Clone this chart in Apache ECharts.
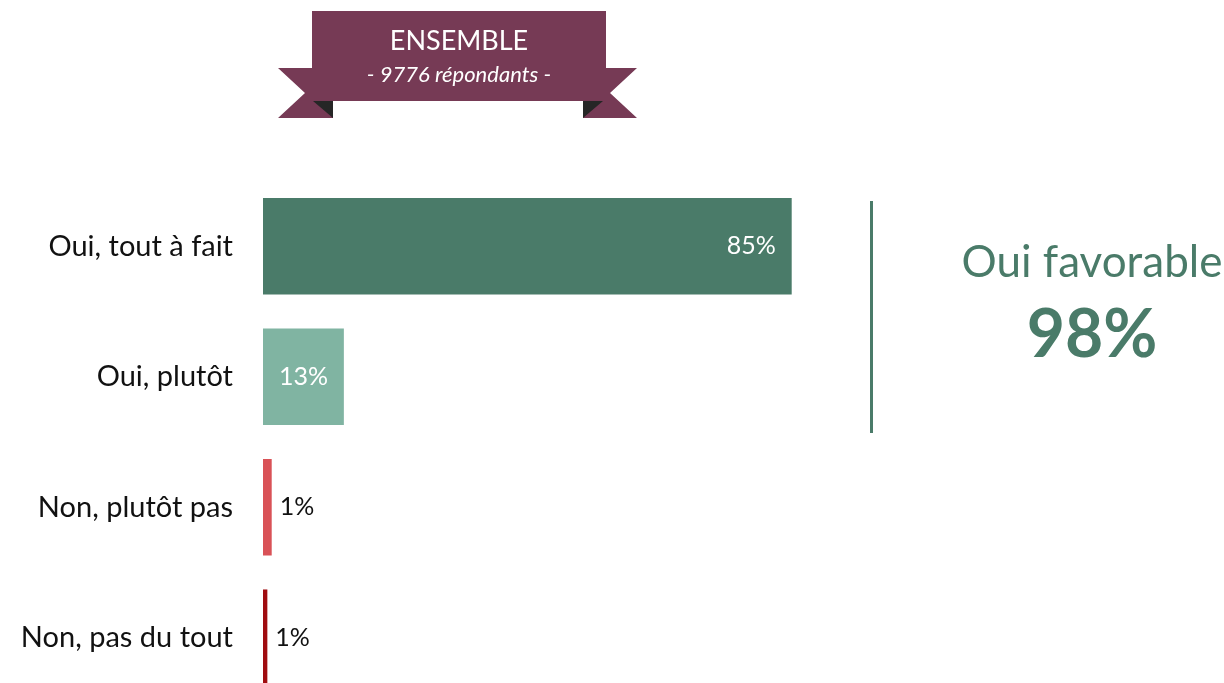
<!DOCTYPE html>
<html>
<head>
<meta charset="utf-8">
<script src="https://cdn.jsdelivr.net/npm/echarts@6/dist/echarts.min.js"></script>
<style>
  html, body { margin: 0; padding: 0; background: #fff; }
  #main { width: 1224px; height: 683px; }
</style>
</head>
<body>
<div id="main"></div>
<script>
// données
var categories = ['Oui, tout à fait', 'Oui, plutôt', 'Non, plutôt pas', 'Non, pas du tout'];
var values = [85, 13, 1.4, 0.7];
var valueLabels = ['85%', '13%', '1%', '1%'];
var barColors = ['#4a7b69', '#80b4a2', '#d95257', '#a00d10'];
var bannerTitle = 'ENSEMBLE';
var bannerSub = '- 9776 répondants -';
var summaryTitle = 'Oui favorable';
var summaryValue = '98%';

var FONT = 'Lato, "Open Sans", sans-serif';
var purple = '#763a55';
var dark = '#262626';
var green = '#4a7b69';

var chart = echarts.init(document.getElementById('main'));

var seriesData = [];
for (var i = 0; i < values.length; i++) {
    var lbl;
    if (i == 0) {
        lbl = { position: 'insideRight', distance: 16, color: '#fff' };
    } else if (i == 1) {
        lbl = { position: 'inside', color: '#fff' };
    } else {
        lbl = { position: 'right', distance: 8, color: '#111' };
    }
    seriesData.push({
        value: values[i],
        itemStyle: { color: barColors[i] },
        label: lbl
    });
}

var option = {
    animation: false,
    grid: { left: 263, right: 339, top: 181, height: 522, outerBoundsMode: 'none' },
    xAxis: {
        type: 'value', min: 0, max: 100,
        show: false
    },
    yAxis: {
        type: 'category',
        inverse: true,
        data: categories,
        axisLine: { show: false },
        axisTick: { show: false },
        axisLabel: { margin: 30, fontSize: 29, color: '#111', fontFamily: FONT }
    },
    series: [{
        type: 'bar',
        barCategoryGap: '26%',
        data: seriesData,
        label: {
            show: true,
            fontSize: 25,
            fontFamily: FONT,
            formatter: function (p) { return valueLabels[p.dataIndex]; }
        }
    }],
    graphic: [
        // ruban
        { type: 'polygon', z: 10, shape: { points: [[278, 68], [333, 68], [333, 118], [278, 118], [305, 93]] }, style: { fill: purple } },
        { type: 'polygon', z: 10, shape: { points: [[637, 68], [583, 68], [583, 118], [637, 118], [610, 93]] }, style: { fill: purple } },
        { type: 'polygon', z: 11, shape: { points: [[313, 101], [333, 101], [333, 118]] }, style: { fill: dark } },
        { type: 'polygon', z: 11, shape: { points: [[603, 101], [583, 101], [583, 118]] }, style: { fill: dark } },
        { type: 'rect', z: 12, shape: { x: 312, y: 11, width: 294, height: 90 }, style: { fill: purple } },
        { type: 'text', z: 13, x: 459, y: 41, style: { text: bannerTitle, fill: '#fff', font: '27px ' + FONT, textAlign: 'center', textVerticalAlign: 'middle' } },
        { type: 'text', z: 13, x: 459, y: 75, style: { text: bannerSub, fill: '#fff', font: 'italic 22px ' + FONT, textAlign: 'center', textVerticalAlign: 'middle' } },
        // bloc de droite
        { type: 'rect', z: 10, shape: { x: 870, y: 201, width: 3, height: 232 }, style: { fill: green } },
        { type: 'text', z: 10, x: 1092, y: 263, style: { text: summaryTitle, fill: green, font: '44px ' + FONT, textAlign: 'center', textVerticalAlign: 'middle' } },
        { type: 'text', z: 10, x: 1092, y: 336, style: { text: summaryValue, fill: green, font: 'bold 66px ' + FONT, textAlign: 'center', textVerticalAlign: 'middle' } }
    ]
};

chart.setOption(option);
</script>
</body>
</html>
